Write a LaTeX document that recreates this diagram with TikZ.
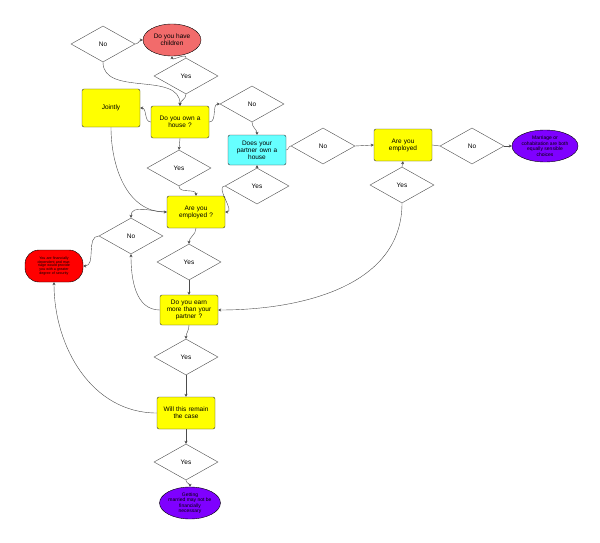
\documentclass[tikz,border=0pt]{standalone}
\usepackage{fontspec}
\setmainfont{Liberation Sans}
\usetikzlibrary{shapes.geometric,arrows.meta}
\definecolor{yel}{HTML}{FFFF00}
\definecolor{cya}{HTML}{66FFFF}
\definecolor{pur}{HTML}{7F00FF}
\definecolor{pink}{HTML}{F26B6B}
\begin{document}
\begin{tikzpicture}[x=1pt,y=-1pt,
  every node/.style={font=\fontsize{6.5}{7}\selectfont,align=center},
  dia/.style={diamond,draw=black!70,fill=white,minimum width=64pt,minimum height=36pt,inner sep=0pt},
  ybox/.style={rectangle,rounded corners=2pt,draw=black!80,fill=yel,minimum width=58pt,minimum height=32pt,text width=52pt,inner sep=1pt},
  ell/.style={ellipse,draw=black,fill=pur,minimum width=60pt,minimum height=32pt,inner sep=0pt,font=\fontsize{5}{5.5}\selectfont},
  con/.style={draw=black!70,-{Stealth[length=3pt,width=3pt]}},
  line/.style={draw=black!70}]
\useasboundingbox (0,0) rectangle (600,543);
\node[dia] (noT) at (103,44) {No};
\node[ellipse,draw=black,fill=pink,minimum width=58pt,minimum height=32pt,inner sep=0pt] (ch) at (172,40) {Do you have\\children};
\node[dia] (yesT) at (186,76) {Yes};
\node[ybox,minimum height=38pt] (jo) at (111,108) {Jointly};
\node[ybox] (ho) at (180,122) {Do you own a\\house ?};
\node[dia] (noH) at (252,104) {No};
\node[ybox,fill=cya,minimum height=30pt] (pa) at (257,150) {Does your\\partner own a\\house};
\node[dia] (yesA) at (179,168) {Yes};
\node[dia] (yesP) at (257,186) {Yes};
\node[dia] (noP) at (323,146) {No};
\node[ybox] (em2) at (403,145) {Are you\\employed};
\node[dia] (noE2) at (472,146) {No};
\node[ell] (pr) at (545,146) {Marriage or\\cohabitation are both\\equally sensible\\choices};
\node[dia] (yesE2) at (402,185) {Yes};
\node[ybox] (em) at (196,212) {Are you\\employed ?};
\node[dia] (noEm) at (131,236) {No};
\node[rectangle,rounded corners=14pt,draw=black,fill=red,minimum width=58pt,minimum height=32pt,text width=40pt,inner sep=1pt,font=\fontsize{3.6}{3.9}\selectfont] (rd) at (54,266) {You are financially dependent and marriage would provide you with a greater degree of security};
\node[dia] (yesEm) at (189,262) {Yes};
\node[ybox,minimum height=30pt] (ea) at (189,310) {Do you earn\\more than your\\partner ?};
\node[dia] (yesEa) at (186,357) {Yes};
\node[ybox] (re) at (186,413) {Will this remain\\the case};
\node[dia] (yesR) at (186,462) {Yes};
\node[ell] (pb) at (190,503) {Getting\\married may not be\\financially\\necessary};
% connectors
\draw[con] (noT.east) to[out=0,in=180] (ch.west);
\draw[con] (yesT.north) to[out=90,in=270] (ch.south);
\draw[con] (noT.south) to[out=270,in=90] (ho.north);
\draw[con] (yesT.south) to[out=270,in=90] (ho.north);
\draw[con] (ho.west) to[out=180,in=0] (jo.east);
\draw[con] (ho.east) to[out=0,in=180] (noH.west);
\draw[con] (noH.south) to[out=270,in=90] (pa.north);
\draw[con] (ho.south) -- (yesA.north);
\draw[con] (yesA.south) to[out=270,in=90] (em.north);
\draw[con] (jo.south) to[out=270,in=180] (em.west);
\draw[con] (em.west) to[out=180,in=90] (noEm.north);
\draw[con] (noEm.west) to[out=180,in=0] (rd.east);
\draw[con] (yesP.north) -- (pa.south);
\draw[con] (yesP.west) to[out=180,in=0] (em.east);
\draw[line] (pa.east) to[out=0,in=180] (noP.west);
\draw[con] (noP.east) -- (em2.west);
\draw[line] (em2.east) -- (noE2.west);
\draw[con] (noE2.east) -- (pr.west);
\draw[con] (yesE2.north) -- (em2.south);
\draw[con] (yesE2.south) to[out=270,in=0] (ea.east);
\draw[con] (em.south) to[out=270,in=90] (yesEm.north);
\draw[con] (yesEm.south) -- (ea.north);
\draw[con] (ea.west) to[out=180,in=270] (noEm.south);
\draw[con] (ea.south) to[out=270,in=90] (yesEa.north);
\draw[con] (yesEa.south) -- (re.north);
\draw[con] (re.west) to[out=180,in=270] (rd.south);
\draw[con] (re.south) -- (yesR.north);
\draw[con] (yesR.south) to[out=270,in=90] (pb.north);
\end{tikzpicture}
\end{document}
